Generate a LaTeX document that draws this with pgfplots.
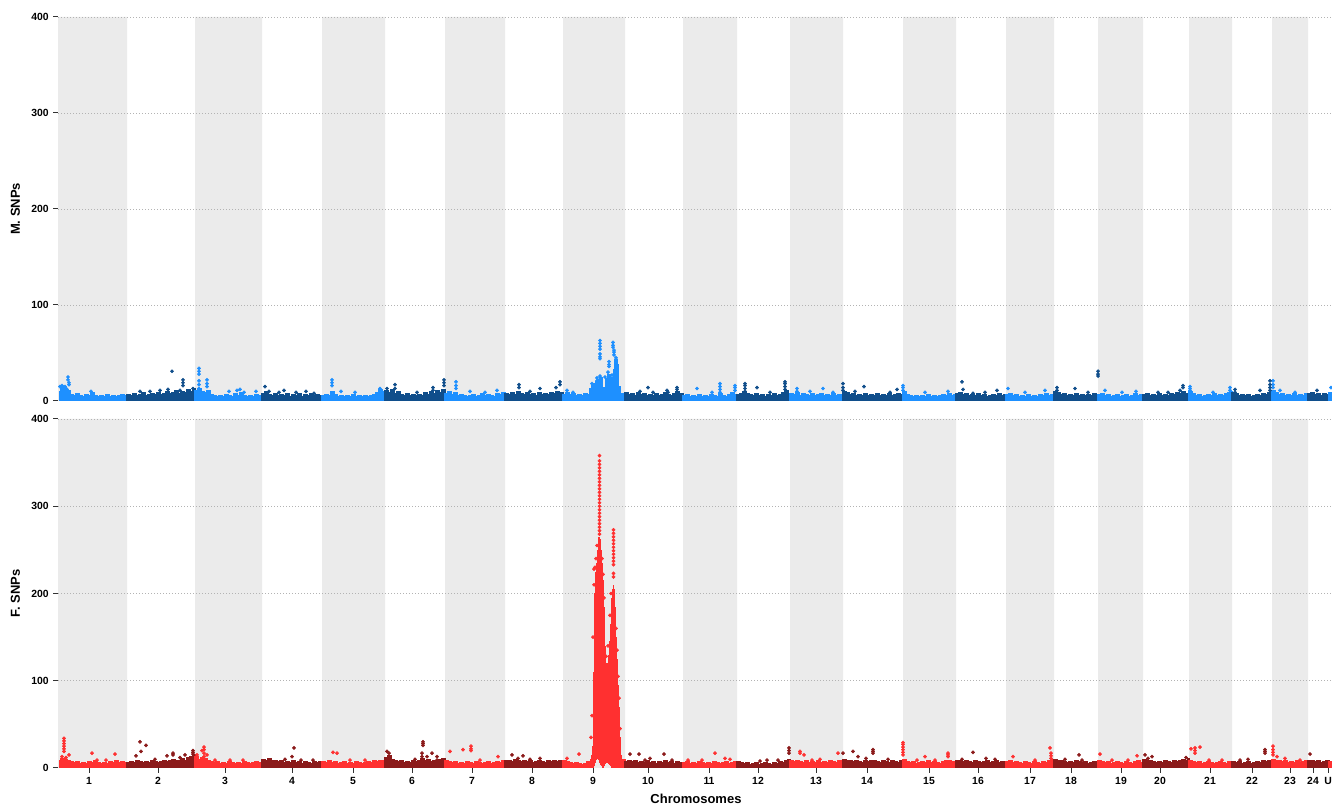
\documentclass[border=0pt]{standalone}
\usepackage{fontspec}
\setmainfont{Liberation Sans}
\usepackage{pgfplots}
\pgfplotsset{compat=1.18}

\definecolor{Ml}{HTML}{1E90FF}
\definecolor{Md}{HTML}{104E8B}
\definecolor{Fl}{HTML}{FF3030}
\definecolor{Fd}{HTML}{8B1A1A}
\definecolor{band}{HTML}{EBEBEB}
\definecolor{gridc}{HTML}{B3B3B3}
\definecolor{axc}{HTML}{333333}

\pgfplotsset{
  manh/.style={
    scale only axis, width=955.5pt,
    xmin=58, xmax=1332, ymin=0, ymax=400,
    ytick={0,100,200,300,400},
    axis y line*=left,
    y axis line style={draw=axc, line width=0.75pt},
    tick align=outside,
    major tick length=3.5pt,
    every tick/.style={draw=axc, line width=0.75pt},
    tick label style={font=\bfseries\fontsize{7.8}{9}\selectfont, text=black},
    /pgf/number format/assume math mode=true,
  },
  floor/.style={const plot, draw=#1, line width=2.2pt, fill=#1, forget plot},
  pts/.style={only marks, mark=*, mark size=1.2pt, forget plot, color=#1,
    mark options={solid, fill=#1, draw=none}},
  gridl/.style={draw=gridc, line width=0.5pt, dash pattern=on 0.75pt off 1.5pt, forget plot},
  bands/.style={const plot, fill=band, draw=none, forget plot},
}

\newcommand{\bandsandgrid}{%
  \addplot[bands] coordinates {(58,400) (127,0) (195,400) (262,0) (322,400) (385,0)
    (445,400) (505,0) (563,400) (625,0) (683,400) (737,0) (790,400) (843,0)
    (903,400) (956,0) (1006,400) (1054,0) (1098,400) (1143,0) (1189,400) (1232,0)
    (1272,400) (1308,0) (1332,0)} \closedcycle;
  \addplot[gridl] coordinates {(58,0) (1332,0)};
  \addplot[gridl] coordinates {(58,100) (1332,100)};
  \addplot[gridl] coordinates {(58,200) (1332,200)};
  \addplot[gridl] coordinates {(58,300) (1332,300)};
  \addplot[gridl] coordinates {(58,400) (1332,400)};
}

\begin{document}
\begin{tikzpicture}

% ---------------- M. SNPs ----------------
\begin{axis}[manh, height=288pt, at={(43.5pt,303.75pt)}, anchor=south west,
  axis x line=none]
\bandsandgrid

\addplot[floor=Ml] coordinates {(60,9) (61,14) (64,12) (67,10) (70,6) (73,5) (76,7) (79,5) (82,4) (85,6) (88,5) (91,8) (94,5) (97,4) (100,5) (103,4) (106,6) (109,4) (112,5) (115,4) (118,5) (121,6) (124,5) (127,5)} \closedcycle;
\addplot[floor=Md] coordinates {(127,6) (130,5) (133,7) (136,5) (139,6) (142,8) (145,5) (148,6) (151,7) (154,6) (157,8) (160,6) (163,7) (166,9) (169,7) (172,8) (175,10) (178,7) (181,9) (184,8) (187,11) (190,9) (193,12) (195,12)} \closedcycle;
\addplot[floor=Ml] coordinates {(195,10) (198,12) (201,9) (204,8) (207,10) (210,6) (213,5) (216,4) (219,5) (222,4) (225,6) (228,5) (231,4) (234,7) (237,5) (240,8) (243,5) (246,4) (249,5) (252,4) (255,6) (258,5) (262,5)} \closedcycle;
\addplot[floor=Md] coordinates {(262,7) (265,9) (268,6) (271,5) (274,7) (277,5) (280,6) (283,5) (286,7) (289,4) (292,6) (295,5) (298,7) (301,4) (304,6) (307,5) (310,7) (313,5) (316,6) (319,5) (322,5)} \closedcycle;
\addplot[floor=Ml] coordinates {(322,5) (325,6) (328,5) (331,9) (334,6) (337,4) (340,5) (343,4) (346,5) (349,4) (352,6) (355,4) (358,5) (361,4) (364,5) (367,4) (370,5) (373,6) (376,8) (379,11) (382,9) (385,9)} \closedcycle;
\addplot[floor=Md] coordinates {(385,10) (388,8) (391,11) (394,7) (397,9) (400,6) (403,5) (406,7) (409,5) (412,6) (415,5) (418,6) (421,5) (424,8) (427,6) (430,9) (433,7) (436,10) (439,8) (442,11) (445,11)} \closedcycle;
\addplot[floor=Ml] coordinates {(445,7) (448,9) (451,6) (454,8) (457,5) (460,6) (463,5) (466,4) (469,5) (472,6) (475,4) (478,5) (481,7) (484,5) (487,6) (490,5) (493,4) (496,7) (499,6) (502,8) (505,8)} \closedcycle;
\addplot[floor=Md] coordinates {(505,7) (508,6) (511,8) (514,6) (517,9) (520,7) (523,6) (526,8) (529,6) (532,7) (535,5) (538,8) (541,6) (544,7) (547,6) (550,8) (553,7) (556,9) (559,8) (563,8)} \closedcycle;
\addplot[floor=Ml] coordinates {(563,6) (566,8) (569,6) (572,7) (575,5) (578,6) (581,5) (584,7) (587,6) (590,12) (592,15) (594,17) (596,19) (598,21) (600,23) (602,13) (604,10) (606,22) (608,27) (610,18) (612,23) (614,32) (615,42) (617,37) (618,14) (620,5) (622,7) (625,7)} \closedcycle;
\addplot[floor=Md] coordinates {(625,8) (628,6) (631,7) (634,5) (637,8) (640,6) (643,7) (646,5) (649,6) (652,5) (655,7) (658,5) (661,6) (664,8) (667,6) (670,5) (673,7) (676,9) (679,7) (683,7)} \closedcycle;
\addplot[floor=Ml] coordinates {(683,5) (686,6) (689,4) (692,5) (695,4) (698,6) (701,4) (704,5) (707,4) (710,6) (713,5) (716,4) (719,7) (722,5) (725,4) (728,6) (731,8) (734,6) (737,6)} \closedcycle;
\addplot[floor=Md] coordinates {(737,6) (740,7) (743,9) (746,7) (749,6) (752,5) (755,7) (758,5) (761,6) (764,4) (767,6) (770,5) (773,7) (776,5) (779,6) (782,8) (785,10) (788,7) (790,7)} \closedcycle;
\addplot[floor=Ml] coordinates {(790,7) (793,6) (796,8) (799,5) (802,7) (805,6) (808,5) (811,7) (814,5) (817,6) (820,7) (823,5) (826,6) (829,5) (832,7) (835,5) (838,6) (841,5) (843,5)} \closedcycle;
\addplot[floor=Md] coordinates {(843,9) (846,8) (849,6) (852,7) (855,5) (858,6) (861,5) (864,7) (867,5) (870,6) (873,5) (876,7) (879,5) (882,6) (885,5) (888,7) (891,5) (894,6) (897,7) (900,6) (903,6)} \closedcycle;
\addplot[floor=Ml] coordinates {(903,9) (906,6) (909,5) (912,4) (915,5) (918,4) (921,5) (924,4) (927,6) (930,4) (933,5) (936,4) (939,5) (942,6) (945,5) (948,7) (951,5) (954,6) (956,6)} \closedcycle;
\addplot[floor=Md] coordinates {(956,7) (959,8) (962,6) (965,7) (968,5) (971,6) (974,5) (977,7) (980,5) (983,6) (986,4) (989,5) (992,6) (995,5) (998,7) (1001,5) (1004,6) (1006,6)} \closedcycle;
\addplot[floor=Ml] coordinates {(1006,6) (1009,7) (1012,5) (1015,6) (1018,4) (1021,5) (1024,4) (1027,6) (1030,4) (1033,5) (1036,4) (1039,6) (1042,5) (1045,7) (1048,5) (1051,6) (1054,6)} \closedcycle;
\addplot[floor=Md] coordinates {(1054,9) (1057,8) (1060,6) (1063,7) (1066,5) (1069,6) (1072,5) (1075,7) (1078,5) (1081,6) (1084,5) (1087,6) (1090,5) (1093,7) (1096,6) (1098,6)} \closedcycle;
\addplot[floor=Ml] coordinates {(1098,6) (1101,7) (1104,5) (1107,6) (1110,4) (1113,5) (1116,6) (1119,4) (1122,5) (1125,6) (1128,4) (1131,5) (1134,7) (1137,5) (1140,6) (1143,6)} \closedcycle;
\addplot[floor=Md] coordinates {(1143,6) (1146,7) (1149,5) (1152,6) (1155,5) (1158,7) (1161,5) (1164,6) (1167,5) (1170,7) (1173,6) (1176,8) (1179,7) (1182,9) (1185,7) (1189,7)} \closedcycle;
\addplot[floor=Ml] coordinates {(1189,9) (1192,7) (1195,5) (1198,6) (1201,4) (1204,5) (1207,6) (1210,5) (1213,7) (1216,5) (1219,6) (1222,5) (1225,7) (1228,8) (1231,9) (1232,9)} \closedcycle;
\addplot[floor=Md] coordinates {(1232,8) (1235,7) (1238,5) (1241,6) (1244,5) (1247,6) (1250,4) (1253,5) (1256,6) (1259,5) (1262,7) (1265,6) (1268,8) (1271,9) (1272,9)} \closedcycle;
\addplot[floor=Ml] coordinates {(1272,10) (1275,8) (1278,6) (1281,7) (1284,5) (1287,6) (1290,5) (1293,7) (1296,5) (1299,6) (1302,5) (1305,7) (1308,7)} \closedcycle;
\addplot[floor=Md] coordinates {(1308,7) (1311,8) (1314,6) (1317,7) (1320,5) (1323,7) (1326,6) (1329,6)} \closedcycle;
\addplot[floor=Ml] coordinates {(1329,8) (1332,8)} \closedcycle;

% scattered SNPs, light chromosomes
\addplot[pts=Ml] coordinates {
(60,15) (62,16) (63,14) (65,15) (66,13) (64,11) (67,12) (68,25) (68,22) (69,19) (69,17) (91,10)
(199,28) (199,31) (199,34) (199,21) (199,17) (199,13) (207,15) (207,18) (207,22) (229,10) (237,11) (240,12) (244,9) (256,10)
(332,16) (332,19) (332,22) (341,10) (355,9) (380,13)
(456,13) (456,16) (456,20) (470,10) (485,9) (497,11)
(567,11) (573,9) (592,18) (597,21) (597,24) (600,26) (600,44) (600,46) (600,49) (600,54) (600,57) (600,60) (600,63)
(608,30) (609,36) (609,38) (609,41) (613,56) (613,58) (613,61) (614,48) (614,51) (614,53) (616,45) (612,27) (605,25)
(697,13) (720,9) (720,12) (720,15) (720,18) (735,11) (735,14) (735,16) (712,9)
(797,10) (797,13) (823,13) (833,9) (810,10)
(903,11) (903,14) (903,16) (948,10) (925,9)
(1008,13) (1045,11) (1025,9)
(1105,11) (1122,9) (1136,10)
(1190,11) (1190,13) (1190,15) (1213,9) (1230,11) (1230,14)
(1273,14) (1273,17) (1273,21) (1280,11) (1295,9)
(1331,14)};
% scattered SNPs, dark chromosomes
\addplot[pts=Md] coordinates {
(172,31) (183,16) (183,19) (183,22) (180,11) (193,13) (168,12) (160,11) (150,10) (140,10)
(265,15) (269,10) (279,9) (284,11) (296,9) (306,10) (314,8)
(387,13) (395,13) (395,17) (433,11) (433,14) (444,16) (444,19) (444,22) (417,9)
(519,17) (519,14) (540,13) (556,14) (560,17) (560,20) (530,10)
(648,14) (653,9) (668,9) (677,9) (677,12) (677,14) (667,11) (640,10)
(745,10) (745,13) (745,16) (745,18) (757,14) (785,12) (785,15) (785,18) (785,20) (770,9)
(843,11) (843,14) (843,18) (864,15) (890,9) (897,12) (855,10)
(962,20) (963,12) (973,8) (997,11) (985,9)
(1057,11) (1057,14) (1075,13) (1098,26) (1098,28) (1098,31) (1088,9)
(1158,9) (1180,11) (1183,14) (1183,16) (1168,9)
(1235,9) (1235,12) (1260,11) (1270,11) (1270,14) (1270,17) (1270,21)
(1317,11)};
\end{axis}

% ---------------- F. SNPs ----------------
\begin{axis}[manh, height=261.75pt, at={(43.5pt,28.5pt)}, anchor=south west,
  axis x line*=bottom, x axis line style={draw=none},
  xtick={89,158,225,292,353,412,472,532,593,648,709,758,816,867,929,978,1030,1071,1121,1160,1210,1252,1290,1313,1328},
  xticklabels={1,2,3,4,5,6,7,8,9,10,11,12,13,14,15,16,17,18,19,20,21,22,23,24,U}]
\bandsandgrid

\addplot[floor=Fl] coordinates {(60,8) (61,10) (64,9) (67,7) (70,6) (73,5) (76,6) (79,4) (82,5) (85,4) (88,6) (91,5) (94,7) (97,5) (100,4) (103,5) (106,4) (109,6) (112,5) (115,7) (118,5) (121,6) (124,5) (127,5)} \closedcycle;
\addplot[floor=Fd] coordinates {(127,5) (130,6) (133,5) (136,7) (139,6) (142,5) (145,6) (148,5) (151,7) (154,6) (157,5) (160,6) (163,8) (166,6) (169,7) (172,9) (175,7) (178,8) (181,10) (184,8) (187,11) (190,12) (193,14) (195,14)} \closedcycle;
\addplot[floor=Fl] coordinates {(195,12) (198,9) (201,11) (204,10) (207,8) (210,6) (213,5) (216,6) (219,4) (222,5) (225,4) (228,6) (231,5) (234,4) (237,5) (240,4) (243,6) (246,5) (249,4) (252,5) (255,6) (258,5) (262,5)} \closedcycle;
\addplot[floor=Fd] coordinates {(262,9) (265,8) (268,10) (271,7) (274,8) (277,6) (280,7) (283,5) (286,6) (289,5) (292,7) (295,5) (298,6) (301,4) (304,6) (307,5) (310,4) (313,6) (316,5) (319,6) (322,6)} \closedcycle;
\addplot[floor=Fl] coordinates {(322,6) (325,5) (328,7) (331,5) (334,6) (337,4) (340,5) (343,6) (346,4) (349,5) (352,4) (355,6) (358,5) (361,4) (364,5) (367,6) (370,5) (373,7) (376,6) (379,8) (382,7) (385,7)} \closedcycle;
\addplot[floor=Fd] coordinates {(385,11) (388,13) (391,9) (394,8) (397,6) (400,7) (403,5) (406,6) (409,5) (412,7) (415,6) (418,8) (421,10) (424,7) (427,9) (430,6) (433,8) (436,7) (439,9) (442,10) (445,10)} \closedcycle;
\addplot[floor=Fl] coordinates {(445,8) (448,6) (451,5) (454,6) (457,4) (460,5) (463,4) (466,6) (469,5) (472,4) (475,6) (478,5) (481,4) (484,5) (487,6) (490,4) (493,5) (496,6) (499,5) (502,7) (505,7)} \closedcycle;
\addplot[floor=Fd] coordinates {(505,7) (508,8) (511,6) (514,9) (517,7) (520,6) (523,8) (526,6) (529,7) (532,5) (535,6) (538,8) (541,6) (544,5) (547,7) (550,6) (553,8) (556,6) (559,7) (563,7)} \closedcycle;
\addplot[floor=Fl] coordinates {(563,8) (566,6) (569,5) (572,4) (575,5) (578,4) (581,3) (584,4) (587,6) (589,6)} \closedcycle;
\addplot[floor=Fl] coordinates {(621,7) (623,9) (625,9)} \closedcycle;
\addplot[floor=Fd] coordinates {(625,6) (628,8) (631,6) (634,7) (637,5) (640,6) (643,5) (646,7) (649,5) (652,6) (655,4) (658,6) (661,5) (664,7) (667,5) (670,6) (673,4) (676,6) (679,5) (683,5)} \closedcycle;
\addplot[floor=Fl] coordinates {(683,5) (686,6) (689,4) (692,5) (695,4) (698,6) (701,5) (704,4) (707,5) (710,4) (713,6) (716,5) (719,4) (722,5) (725,6) (728,4) (731,5) (734,6) (737,6)} \closedcycle;
\addplot[floor=Fd] coordinates {(737,6) (740,5) (743,4) (746,5) (749,3) (752,4) (755,5) (758,3) (761,4) (764,5) (767,4) (770,3) (773,5) (776,4) (779,6) (782,5) (785,7) (788,9) (790,9)} \closedcycle;
\addplot[floor=Fl] coordinates {(790,7) (793,6) (796,8) (799,6) (802,5) (805,7) (808,5) (811,6) (814,5) (817,7) (820,5) (823,6) (826,5) (829,7) (832,6) (835,5) (838,7) (841,6) (843,6)} \closedcycle;
\addplot[floor=Fd] coordinates {(843,9) (846,7) (849,8) (852,6) (855,7) (858,6) (861,5) (864,7) (867,6) (870,8) (873,7) (876,6) (879,5) (882,7) (885,6) (888,5) (891,7) (894,6) (897,5) (900,7) (903,7)} \closedcycle;
\addplot[floor=Fl] coordinates {(903,9) (906,6) (909,5) (912,6) (915,4) (918,5) (921,6) (924,5) (927,7) (930,5) (933,6) (936,5) (939,4) (942,6) (945,7) (948,8) (951,6) (954,5) (956,5)} \closedcycle;
\addplot[floor=Fd] coordinates {(956,8) (959,7) (962,6) (965,8) (968,6) (971,5) (974,7) (977,6) (980,5) (983,6) (986,7) (989,5) (992,6) (995,7) (998,5) (1001,6) (1004,5) (1006,5)} \closedcycle;
\addplot[floor=Fl] coordinates {(1006,6) (1009,7) (1012,5) (1015,6) (1018,5) (1021,4) (1024,6) (1027,5) (1030,4) (1033,6) (1036,5) (1039,4) (1042,6) (1045,5) (1048,7) (1051,9) (1054,9)} \closedcycle;
\addplot[floor=Fd] coordinates {(1054,9) (1057,8) (1060,7) (1063,6) (1066,5) (1069,6) (1072,5) (1075,7) (1078,6) (1081,5) (1084,6) (1087,4) (1090,5) (1093,6) (1096,5) (1098,5)} \closedcycle;
\addplot[floor=Fl] coordinates {(1098,7) (1101,6) (1104,5) (1107,6) (1110,4) (1113,5) (1116,6) (1119,5) (1122,4) (1125,6) (1128,5) (1131,4) (1134,6) (1137,7) (1140,5) (1143,5)} \closedcycle;
\addplot[floor=Fd] coordinates {(1143,9) (1146,8) (1149,7) (1152,6) (1155,5) (1158,6) (1161,5) (1164,7) (1167,6) (1170,5) (1173,7) (1176,6) (1179,8) (1182,9) (1185,8) (1188,10) (1189,10)} \closedcycle;
\addplot[floor=Fl] coordinates {(1189,8) (1192,6) (1195,5) (1198,6) (1201,4) (1204,5) (1207,6) (1210,5) (1213,4) (1216,5) (1219,6) (1222,5) (1225,4) (1228,6) (1231,5) (1232,5)} \closedcycle;
\addplot[floor=Fd] coordinates {(1232,6) (1235,5) (1238,6) (1241,4) (1244,5) (1247,6) (1250,4) (1253,5) (1256,6) (1259,5) (1262,7) (1265,6) (1268,8) (1271,7) (1272,7)} \closedcycle;
\addplot[floor=Fl] coordinates {(1272,9) (1275,8) (1278,7) (1281,6) (1284,7) (1287,5) (1290,6) (1293,5) (1296,7) (1299,5) (1302,6) (1305,8) (1308,8)} \closedcycle;
\addplot[floor=Fd] coordinates {(1308,8) (1311,7) (1314,6) (1317,7) (1320,5) (1323,6) (1326,7) (1329,7)} \closedcycle;
\addplot[floor=Fl] coordinates {(1329,6) (1332,6)} \closedcycle;

% chromosome 9 peak: vertical runs of SNPs (low value, extent upward)
\addplot[draw=none, mark=none, forget plot,
  error bars/.cd, y dir=plus, y explicit, error mark=none,
  error bar style={draw=Fl, line width=0.65pt}] coordinates {
(589,0) += (0,8)   (590,0) += (0,10)  (591,0) += (0,15)  (592,0) += (0,25)
(593,0) += (0,110) (594,2) += (0,198) (595,6) += (0,219) (596,9) += (0,226)
(597,10) += (0,240) (598,9) += (0,256) (599,6) += (0,259) (600,3) += (0,259)
(601,2) += (0,248) (602,0) += (0,235) (603,0) += (0,215) (604,2) += (0,183)
(605,5) += (0,135) (606,6) += (0,114) (607,6) += (0,114) (608,5) += (0,125)
(609,4) += (0,141) (610,2) += (0,163) (611,0) += (0,195) (612,0) += (0,205)
(613,0) += (0,210) (614,0) += (0,205) (615,0) += (0,185) (616,0) += (0,150)
(617,0) += (0,125) (618,0) += (0,95)  (619,0) += (0,70)  (620,0) += (0,35)
(621,0) += (0,15)  (622,0) += (0,8)};

% scattered SNPs, light chromosomes
\addplot[pts=Fl] coordinates {
(64,34) (64,31) (64,28) (64,25) (64,22) (64,19) (69,15) (92,17) (97,9) (115,16) (106,9) (62,13) (66,12)
(202,20) (204,13) (204,17) (204,21) (204,24) (207,15) (215,9) (197,15) (230,9) (243,9)
(333,18) (337,17) (350,9) (365,9)
(450,19) (463,21) (471,20) (471,22) (471,25) (498,13) (480,9)
(567,11) (579,16)
(596,240) (597,255) (594,210) (595,230) (602,240) (604,195) (603,222) (608,140) (610,175) (611,200)
(616,160) (617,135) (618,105) (619,80) (592,60) (591,35) (620,45) (606,128) (593,150) (594,228)
(599.5,268) (599.5,272) (599.5,276) (599.5,280) (599.5,284) (599.5,288) (599.5,292) (599.5,296)
(599.5,300) (599.5,304) (599.5,308) (599.5,312) (599.5,316) (599.5,320) (599.5,324) (599.5,328)
(599.5,332) (599.5,336) (599.5,340) (599.5,344) (599.5,348) (599.5,352) (599.5,358)
(613.5,219) (613.5,223) (613.5,233) (613.5,237) (613.5,241) (613.5,245) (613.5,249) (613.5,253)
(613.5,257) (613.5,261) (613.5,265) (613.5,269) (613.5,273)
(688,9) (715,17) (725,11) (702,9) (730,10)
(800,17) (800,19) (804,15) (838,17) (820,10) (812,9)
(903,15) (903,18) (903,21) (903,24) (903,27) (903,29) (917,9) (925,13) (948,13) (948,15) (948,17) (935,9)
(1013,13) (1050,23) (1051,11) (1051,14) (1051,17) (1035,9)
(1100,16) (1137,14) (1112,9) (1128,9)
(1191,22) (1195,17) (1195,20) (1195,23) (1200,24) (1209,9) (1222,9)
(1273,15) (1273,18) (1273,21) (1273,25) (1277,13) (1285,11) (1300,9)};
% scattered SNPs, dark chromosomes
\addplot[pts=Fd] coordinates {
(136,14) (140,30) (146,26) (141,19) (167,14) (173,17) (173,15) (185,15) (193,16) (193,18) (193,20) (155,10) (180,12)
(292,13) (294,23) (313,9) (285,10) (301,9)
(387,19) (389,17) (423,26) (423,28) (423,30) (422,13) (422,17) (427,13) (432,17) (437,9) (437,13) (415,10)
(512,15) (523,14) (540,11) (518,11) (530,10)
(630,16) (639,16) (650,11) (664,16) (645,9) (672,9)
(767,9) (789,17) (789,20) (789,23) (760,8) (778,9)
(843,17) (853,19) (858,13) (873,17) (873,19) (873,21) (866,11) (888,10)
(973,18) (986,11) (962,10) (995,10)
(1079,15) (1082,9) (1065,10)
(1145,15) (1152,13) (1148,11) (1186,12)
(1248,10) (1265,17) (1265,19) (1265,21) (1240,9)
(1310,16)};
\end{axis}

\node[rotate=90, font=\bfseries\fontsize{9.75}{11}\selectfont] at (11.6pt,447.75pt) {M. SNPs};
\node[rotate=90, font=\bfseries\fontsize{9.75}{11}\selectfont] at (11.6pt,159.4pt) {F. SNPs};
\node[anchor=base, font=\bfseries\fontsize{9.75}{11}\selectfont] at (522pt,1.5pt) {Chromosomes};

\pgfresetboundingbox
\path[use as bounding box] (0,0) rectangle (999pt,604.5pt);
\end{tikzpicture}
\end{document}
